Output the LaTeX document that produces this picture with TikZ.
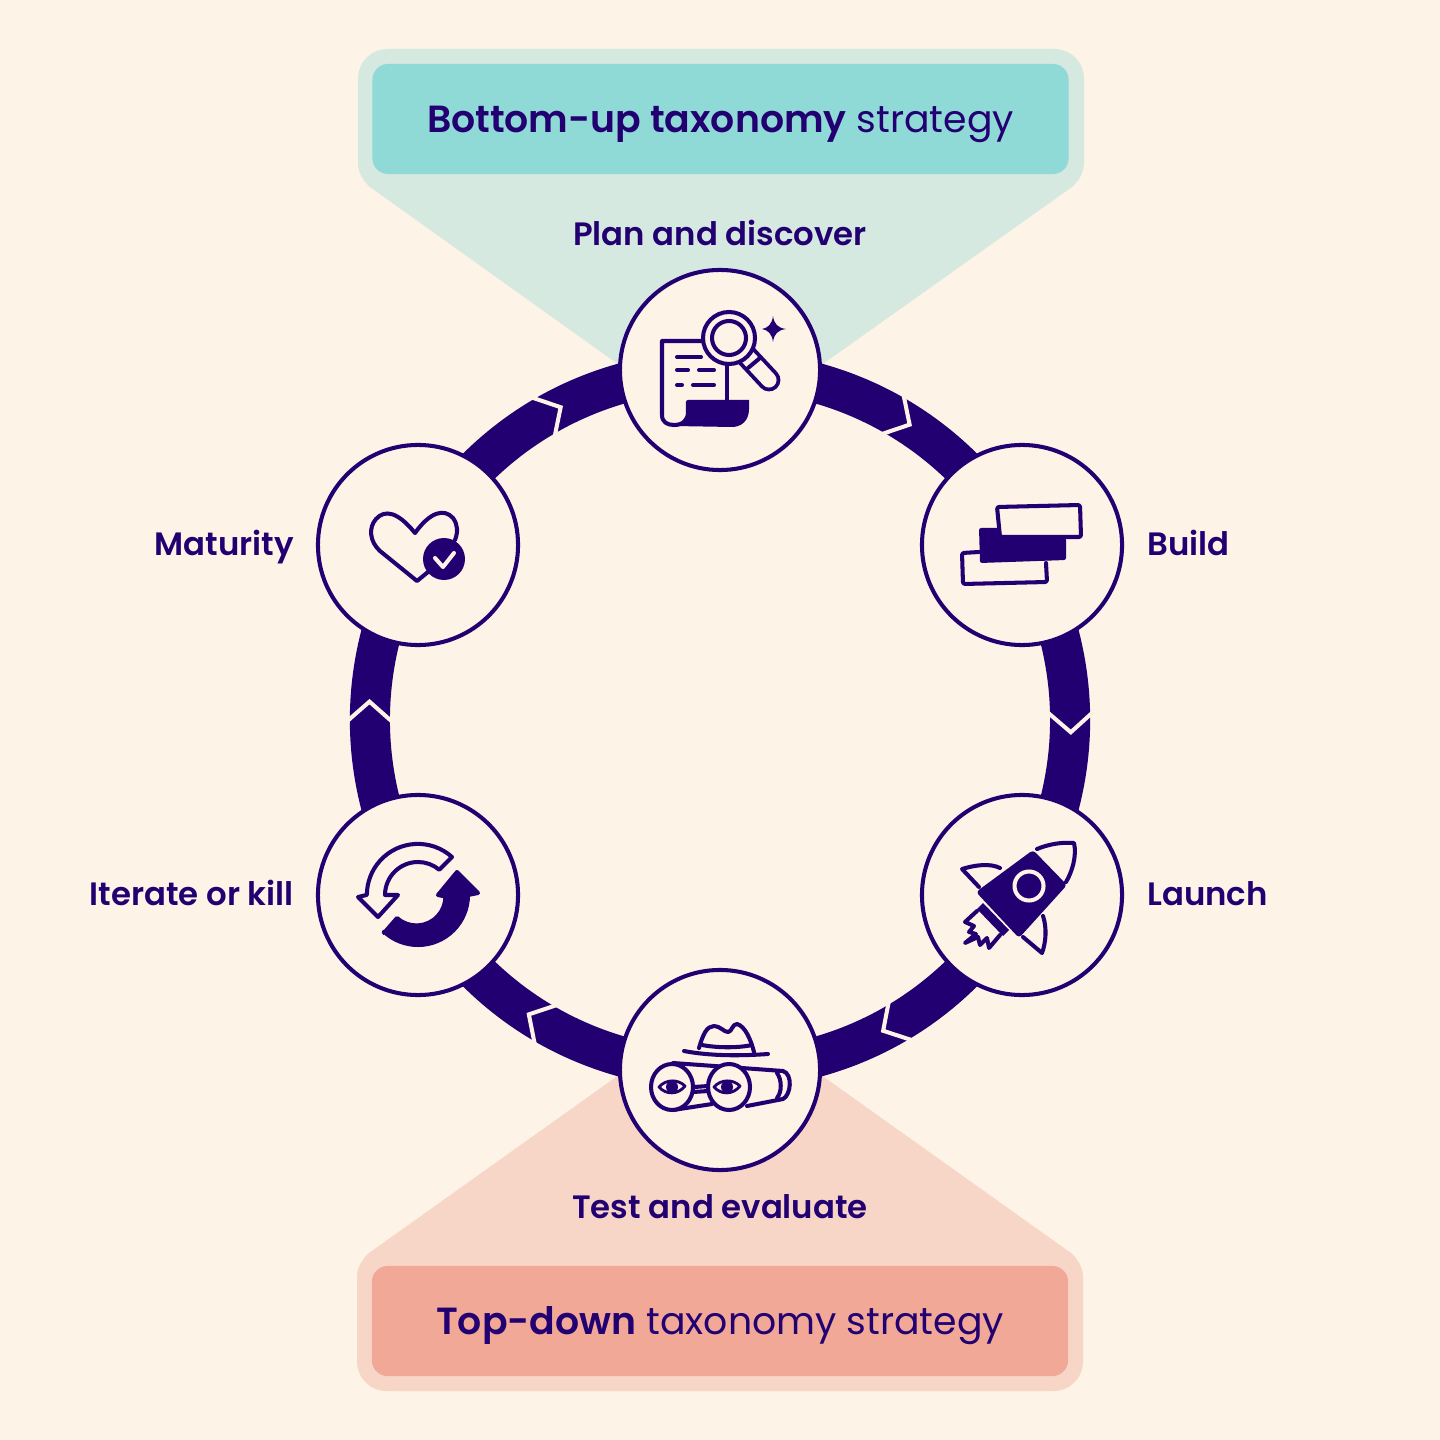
\documentclass[tikz,border=0pt]{standalone}
\usepackage{fontspec}
\setmainfont{Poppins}[BoldFont={Poppins SemiBold}]
\usetikzlibrary{backgrounds}
\usetikzlibrary{positioning}
\definecolor{mbg}{HTML}{FDF3E6}
\definecolor{mink}{HTML}{230072}
\definecolor{mtealpale}{HTML}{D5E9E0}
\definecolor{mteal}{HTML}{8FD9D6}
\definecolor{mredpale}{HTML}{F7D6C8}
\definecolor{mred}{HTML}{F1A897}
\tikzset{stage/.style = {circle, draw=mink, fill=mbg, line width=1.15pt, minimum size=56.9pt, inner sep=0pt},
         stagename/.style = {text=mink, font=\fontsize{9.2}{11}\selectfont\bfseries, inner sep=0pt,
                             text height=8pt, text depth=1.8pt},
         banner/.style = {rounded corners=4.5pt, minimum width=198pt, minimum height=31.3pt,
                          text=mink, font=\fontsize{10.75}{13}\selectfont, inner sep=0pt,
                          text height=10pt, text depth=2.6pt},
         ringarc/.style = {draw=mink, line width=11.4pt, bend left=30, looseness=0.94},
         icon/.style = {draw=mink, line width=1.15pt, line cap=round, line join=round},
         iconfill/.style = {icon, fill=mink},
         iconpale/.style = {icon, draw=mbg}}

\begin{document}
\begin{tikzpicture}[x=0.01cm, y=-0.01cm]
    \useasboundingbox (0, 0) rectangle (1440, 1440);
    \coordinate (hub) at (720, 720);

    \node [stage] (plan) at (720, 370) {};
    \node [stage] (build) at (1022, 545) {};
    \node [stage] (launch) at (1022, 895) {};
    \node [stage] (test) at (720, 1070) {};
    \node [stage] (iterate) at (418, 895) {};
    \node [stage] (maturity) at (418, 545) {};

    \node [stagename, above=4.3pt of plan] (planname) {Plan and discover};
    \node [stagename, right=6.4pt of build] (buildname) {Build};
    \node [stagename, right=6.4pt of launch] (launchname) {Launch};
    \node [stagename, below=5pt of test] (testname) {Test and evaluate};
    \node [stagename, left=6.1pt of iterate] (iteratename) {Iterate or kill};
    \node [stagename, left=6.1pt of maturity] (maturityname) {Maturity};

    \begin{scope}[on background layer]
      \fill [mbg] (0, 0) rectangle (1440, 1440);
      \fill [mtealpale] (388, 49) -- (1054, 49) .. controls (1071, 49) and (1084, 62) .. (1084, 79) -- (1084, 163)
        .. controls (1084, 172) and (1079, 181) .. (1072, 187) -- (720, 437) -- (370, 187)
        .. controls (363, 181) and (358, 172) .. (358, 163) -- (358, 79) .. controls (358, 62) and (371, 49) .. (388, 49) -- cycle;
      \fill [mredpale] (387, 1391) -- (1053, 1391) .. controls (1070, 1391) and (1083, 1378) .. (1083, 1361) -- (1083, 1277)
        .. controls (1083, 1268) and (1078, 1259) .. (1071, 1253) -- (720, 1003) -- (369, 1253)
        .. controls (362, 1259) and (357, 1268) .. (357, 1277) -- (357, 1361) .. controls (357, 1378) and (370, 1391) .. (387, 1391) -- cycle;
      \node [banner, fill=mteal] (bottomup) at (720.5, 119) {\textbf{Bottom-up taxonomy} strategy};
      \node [banner, fill=mred] (topdown) at (720, 1321) {\textbf{Top-down} taxonomy strategy};
      \draw [ringarc] (plan.center) to (build.center);
      \draw [ringarc] (build.center) to (launch.center);
      \draw [ringarc] (launch.center) to (test.center);
      \draw [ringarc] (test.center) to (iterate.center);
      \draw [ringarc] (iterate.center) to (maturity.center);
      \draw [ringarc] (maturity.center) to (plan.center);
      \foreach \tip in {-57.3, 2, 62.3, 123, 183, 243} {
        \draw [iconpale, line cap=butt, miter limit=4, line join=miter]
          ([shift={(\tip-3.6:376)}]hub) -- ([shift={(\tip:351)}]hub) -- ([shift={(\tip-3.6:326)}]hub);
      }
    \end{scope}

    % plan and discover
    \draw [icon] (702, 341) -- (662, 341) -- (662, 415) .. controls (662, 422) and (667, 425) .. (674, 425)
      .. controls (683, 425) and (688, 420) .. (688, 412) -- (688, 402);
    \fill [mink] (688, 400) -- (749, 400) -- (749, 409) .. controls (749, 421) and (741, 427) .. (732, 427) -- (674, 426)
      .. controls (683, 425) and (688, 420) .. (688, 412) -- cycle;
    \draw [icon] (727, 364) -- (727, 401);
    \draw [icon] (677, 357) -- (701, 357);
    \draw [icon] (677, 370) -- (688, 370) (699, 370) -- (714, 370);
    \draw [icon] (677, 385) -- (682, 385) (693, 385) -- (714, 385);
    \draw [icon, double=mbg, double distance=4.3pt, line width=1.1pt] (742, 351) -- (769, 380);
    \draw [icon, fill=mbg] (729, 338) circle [radius=26];
    \draw [icon] (729, 338) circle [radius=17];
    \draw [icon] (760, 358) -- (748, 368);
    \fill [mink] (773, 316) .. controls (774, 324) and (778, 328) .. (786, 329)
      .. controls (778, 330) and (774, 334) .. (773, 342)
      .. controls (772, 334) and (768, 330) .. (762, 329)
      .. controls (768, 328) and (772, 324) .. (773, 316) -- cycle;

    % build
    \draw [icon, rounded corners=0.6pt] (997, 507) -- (1080, 505) -- (1081, 537) -- (1000, 537) -- cycle;
    \fill [mink, rounded corners=0.6pt] (979, 528) -- (999, 528) -- (1001, 538) -- (1066, 538) -- (1066, 560) -- (980, 563) -- cycle;
    \draw [icon, rounded corners=0.6pt] (979, 552) -- (962, 553) -- (963, 584) -- (1047, 582) -- (1046, 563);

    % launch
    \fill [mink, rounded corners=1pt] (1033, 850) -- (1067, 885) -- (1019, 938) -- (976, 892) -- cycle;
    \draw [iconpale] (1029, 886) circle [radius=14.5];
    \draw [icon] (1037, 849) .. controls (1049, 844) and (1062, 842) .. (1074, 843)
      .. controls (1077, 856) and (1072, 872) .. (1066, 882);
    \draw [icon] (1000, 868) .. controls (990, 863) and (975, 865) .. (962, 869) -- (979, 887);
    \draw [icon] (1043, 916) .. controls (1047, 928) and (1046, 942) .. (1042, 953) -- (1023, 937);
    \fill [mink] (977, 909) -- (983, 903) -- (1009, 930) -- (1003, 936) -- cycle;
    \draw [icon] (977, 911) -- (965, 922) -- (974, 926) -- (969, 932) -- (976, 934) -- (965, 943) -- (978, 937)
      -- (980, 945) -- (987, 938) -- (989, 948) -- (1000, 935);

    % test and evaluate
    \draw [icon] (699, 1048) .. controls (703, 1034) and (707, 1026) .. (714, 1026)
      .. controls (720, 1026) and (724, 1032) .. (728, 1032) .. controls (732, 1032) and (732, 1024) .. (737, 1024)
      .. controls (745, 1026) and (751, 1040) .. (754, 1052);
    \draw [icon] (702, 1045) .. controls (718, 1048) and (738, 1048) .. (752, 1045);
    \draw [icon] (684, 1051) .. controls (710, 1056) and (740, 1056) .. (768, 1054);
    \draw [icon] (673, 1063) -- (783, 1071) .. controls (793, 1074) and (791, 1095) .. (783, 1099) -- (747, 1106);
    \draw [icon] (673, 1110) -- (712, 1104);
    \draw [icon] (777, 1073) .. controls (782, 1080) and (782, 1092) .. (777, 1098);
    \draw [icon] (694, 1087) -- (708, 1086) (693, 1092) -- (708, 1091);
    \draw [icon, fill=mbg] (672, 1087) ellipse [x radius=21, y radius=23];
    \draw [icon, fill=mbg] (729, 1087) ellipse [x radius=21, y radius=23];
    \foreach \eye in {672, 727} {
      \draw [icon, line width=0.8pt] (\eye-13, 1087) .. controls (\eye-6, 1079) and (\eye+6, 1079) .. (\eye+13, 1086)
        .. controls (\eye+6, 1095) and (\eye-6, 1095) .. (\eye-13, 1087) -- cycle;
      \fill [mink] (\eye, 1087) circle [radius=6];
    }

    % iterate or kill
    \draw [icon] (452, 857) arc [start angle=-48, end angle=-180, radius=51] -- (358, 897) -- (378, 917) -- (398, 895) -- (385, 895)
      arc [start angle=-180, end angle=-50, radius=33] -- cycle;
    \draw [iconfill] (384, 933) -- (397, 918) arc [start angle=132, end angle=0, radius=29] -- (438, 895) -- (457, 872)
      -- (478, 893) -- (468, 895) arc [start angle=0, end angle=133, radius=50] -- cycle;

    % maturity
    \draw [icon] (428, 572) -- (417, 581) -- (380, 551) .. controls (370, 542) and (368, 528) .. (376, 519)
      .. controls (385, 509) and (398, 512) .. (415, 533) .. controls (430, 512) and (444, 508) .. (453, 518)
      .. controls (458, 525) and (458, 532) .. (455, 540);
    \fill [mink] (444, 559) circle [radius=21];
    \draw [iconpale] (435, 558) -- (443, 567) -- (454, 553);
\end{tikzpicture}
\end{document}
